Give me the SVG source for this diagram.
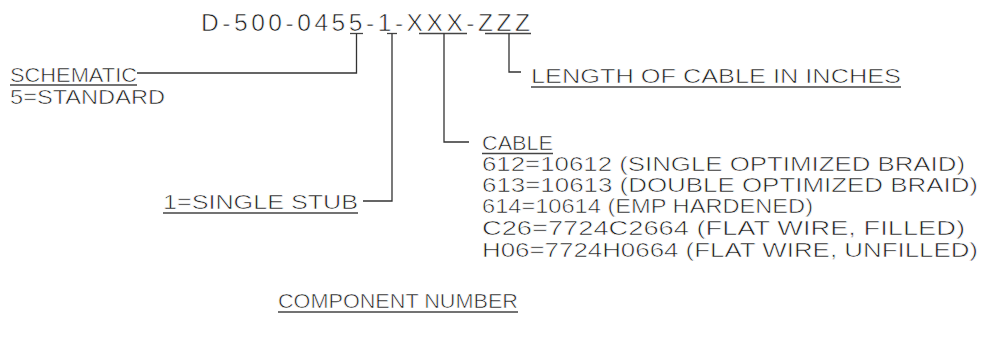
<svg xmlns="http://www.w3.org/2000/svg" width="997" height="339" viewBox="0 0 997 339">
<style>
text{font-family:"Liberation Sans",Arial,sans-serif;fill:#1a1a1a;stroke:#fff;stroke-width:0.6px;font-size:20.5px;}
.title{font-size:24.5px;}
line,polyline{stroke:#333;stroke-width:1.3;fill:none;}
.u{stroke:#444;stroke-width:1.3;}
</style>
<rect width="997" height="339" fill="#fff"/>
<g id="part-number">
<text class="title" x="201" y="31" textLength="329" lengthAdjust="spacing">D-500-0455-1-XXX-ZZZ</text>
<line class="u" x1="350" y1="33.5" x2="363" y2="33.5"/>
<line class="u" x1="387" y1="33.5" x2="397" y2="33.5"/>
<line class="u" x1="419" y1="33.5" x2="467" y2="33.5"/>
<line class="u" x1="485" y1="33.5" x2="531" y2="33.5"/>
</g>
<g id="connectors">
<polyline points="356.5,33.5 356.5,73 137,73"/>
<polyline points="392,33.5 392,201 363,201"/>
<polyline points="444,33.5 444,142 469,142"/>
<polyline points="509,33.5 509,72 521,72"/>
</g>
<g id="schematic">
<text x="10" y="82" textLength="127" lengthAdjust="spacingAndGlyphs">SCHEMATIC</text>
<line class="u" x1="10" y1="85" x2="137" y2="85"/>
<text x="10" y="104" textLength="155" lengthAdjust="spacingAndGlyphs">5=STANDARD</text>
</g>
<g id="length">
<text x="531" y="83" textLength="370" lengthAdjust="spacingAndGlyphs">LENGTH OF CABLE IN INCHES</text>
<line class="u" x1="531" y1="87" x2="901" y2="87"/>
</g>
<g id="cable">
<text x="482" y="150" textLength="71" lengthAdjust="spacingAndGlyphs">CABLE</text>
<line class="u" x1="482" y1="153.5" x2="553" y2="153.5"/>
<text x="482" y="171" textLength="483" lengthAdjust="spacingAndGlyphs">612=10612 (SINGLE OPTIMIZED BRAID)</text>
<text x="482" y="192" textLength="496" lengthAdjust="spacingAndGlyphs">613=10613 (DOUBLE OPTIMIZED BRAID)</text>
<text x="482" y="213" textLength="331" lengthAdjust="spacingAndGlyphs">614=10614 (EMP HARDENED)</text>
<text x="482" y="235" textLength="483" lengthAdjust="spacingAndGlyphs">C26=7724C2664 (FLAT WIRE, FILLED)</text>
<text x="482" y="257" textLength="496" lengthAdjust="spacingAndGlyphs">H06=7724H0664 (FLAT WIRE, UNFILLED)</text>
</g>
<g id="stub">
<text x="163" y="209" textLength="195" lengthAdjust="spacingAndGlyphs">1=SINGLE STUB</text>
<line class="u" x1="163" y1="213" x2="358" y2="213"/>
</g>
<g id="component-number">
<text x="278" y="308" textLength="240" lengthAdjust="spacingAndGlyphs">COMPONENT NUMBER</text>
<line class="u" x1="278" y1="312" x2="518" y2="312"/>
</g>
</svg>
